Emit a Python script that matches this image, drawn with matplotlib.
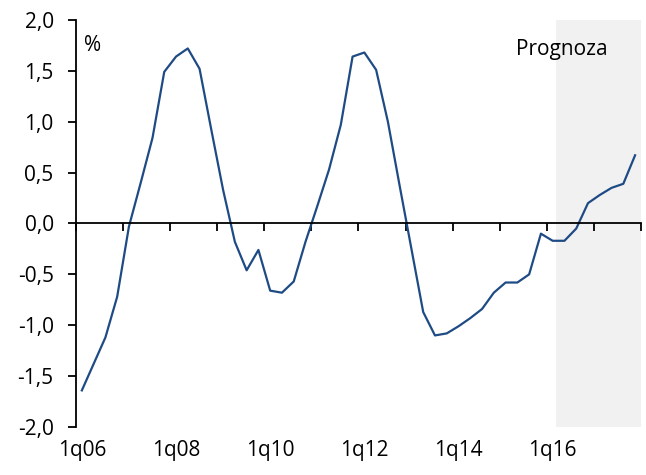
from __future__ import annotations

import matplotlib

matplotlib.use("Agg")
import matplotlib.pyplot as plt
import numpy as np
from matplotlib.ticker import FixedLocator, FuncFormatter


# quarterly series, 1q06 .. 4q17
QUARTERS = [f"{q}q{y % 100:02d}" for y in range(2006, 2018) for q in range(1, 5)]
VALUES = [
    -1.64, -1.38, -1.12, -0.72, -0.03, 0.40, 0.84, 1.49,
    1.64, 1.72, 1.52, 0.92, 0.33, -0.18, -0.46, -0.26,
    -0.66, -0.68, -0.57, -0.18, 0.17, 0.53, 0.97, 1.64,
    1.68, 1.51, 1.00, 0.37, -0.25, -0.87, -1.10, -1.08,
    -1.01, -0.93, -0.84, -0.68, -0.58, -0.58, -0.50, -0.10,
    -0.17, -0.17, -0.05, 0.20, 0.28, 0.35, 0.39, 0.67,
]
LABELED = ["1q06", "1q08", "1q10", "1q12", "1q14", "1q16"]
FORECAST_START = 40.3  # shaded area starts just after 1q16
Y_TICKS = [-2.0, -1.5, -1.0, -0.5, 0.0, 0.5, 1.0, 1.5, 2.0]

LINE_COLOR = "#1f4b85"
SHADE_COLOR = "#f1f1f1"
FONT = ["Open Sans", "DejaVu Sans"]

plt.rcParams["font.family"] = FONT

x = np.arange(len(VALUES))

fig = plt.figure(figsize=(6.46, 4.75), dpi=100)
ax = fig.add_axes([0.1176, 0.101, 0.8746, 0.857])

ax.axvspan(FORECAST_START, len(VALUES) - 0.5 + 0.3, color=SHADE_COLOR, zorder=0, lw=0)
ax.plot(x, VALUES, color=LINE_COLOR, lw=1.6, zorder=3)

ax.set_xlim(-0.5, len(VALUES) - 0.5)
ax.set_ylim(-2.0, 2.0)

for side in ("top", "right"):
    ax.spines[side].set_visible(False)
ax.spines["left"].set_linewidth(1.3)
ax.spines["bottom"].set_position(("data", 0))
ax.spines["bottom"].set_linewidth(1.3)
ax.spines["bottom"].set_zorder(4)

ax.yaxis.set_major_locator(FixedLocator(Y_TICKS))
ax.yaxis.set_major_formatter(FuncFormatter(lambda v, _: f"{v:.1f}".replace(".", ",")))
ax.tick_params(axis="y", direction="out", length=6, width=1.3, pad=10, labelsize=15)

# year boundaries on the zero line
ax.set_xticks(np.arange(-0.5, len(VALUES), 4))
ax.tick_params(axis="x", direction="out", length=6, width=1.3, labelbottom=False)

# labels at the bottom of the chart
sec = ax.secondary_xaxis("bottom")
sec.set_xticks([QUARTERS.index(lbl) for lbl in LABELED])
sec.set_xticklabels(LABELED)
sec.tick_params(length=0, pad=9, labelsize=15)
sec.spines["bottom"].set_visible(False)

ax.text(0.2, 1.75, "%", fontsize=15, ha="left", va="center")
ax.text(36.9, 1.71, "Prognoza", fontsize=15, ha="left", va="center")

fig.savefig("out.png", dpi=100)
plt.close(fig)
